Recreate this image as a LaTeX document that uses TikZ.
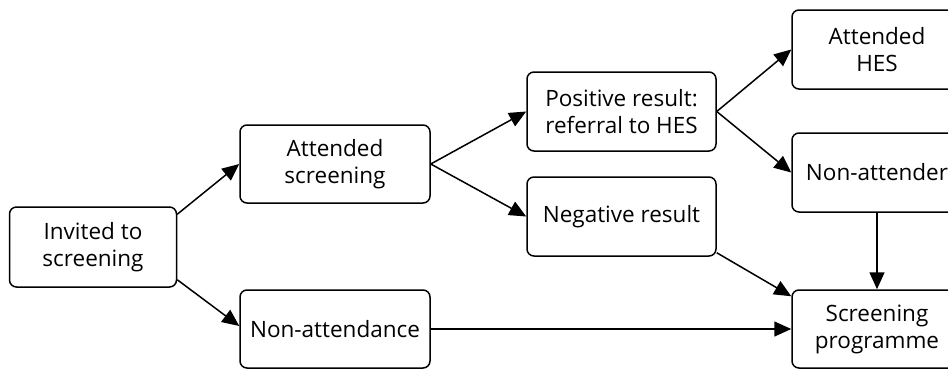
\documentclass[tikz,border=0pt]{standalone}
\usepackage{fontspec}
\setmainfont{Open Sans}
\usetikzlibrary{arrows.meta}
\begin{document}
\begin{tikzpicture}[x=1pt,y=-1pt,
  box/.style={draw,line width=1.5pt,rounded corners=7pt,align=center,inner sep=0pt,
    font=\fontsize{22.5}{27}\selectfont},
  conn/.style={line width=1.5pt,-{Triangle[length=17pt,width=15pt]}}]
\useasboundingbox (0,0) rectangle (948,370);
\clip (0,0) rectangle (948,370);
\node[box,minimum width=167pt,minimum height=80pt] (inv) at (93,247) {Invited to\\screening};
\node[box,minimum width=190pt,minimum height=78pt] (att) at (335,164) {Attended\\screening};
\node[box,minimum width=190pt,minimum height=78pt] (non) at (335,329) {Non-attendance};
\node[box,minimum width=189pt,minimum height=79pt] (pos) at (621.5,111.5) {Positive result:\\referral to HES};
\node[box,minimum width=189pt,minimum height=79pt] (neg) at (621.5,216.5) {Negative result};
\node[box,minimum width=170pt,minimum height=79pt] (ahes) at (877,49.5) {Attended\\HES};
\node[box,minimum width=170pt,minimum height=79pt] (nona) at (877,172.5) {Non-attender};
\node[box,minimum width=170pt,minimum height=78pt] (scr) at (877,329) {Screening\\programme};
\draw[conn] ([yshift=-8pt]inv.north east) -- (att.west);
\draw[conn] ([yshift=8pt]inv.south east) -- ([yshift=3pt]non.west);
\draw[conn] (att.east) -- (pos.west);
\draw[conn] (att.east) -- (neg.west);
\draw[conn] (pos.east) -- (ahes.west);
\draw[conn] (pos.east) -- (nona.west);
\draw[conn] ([yshift=4pt]neg.south east) -- ([yshift=-7pt]scr.north west);
\draw[conn] (non.east) -- (scr.west);
\draw[conn] (nona.south) -- (scr.north);
\end{tikzpicture}
\end{document}
